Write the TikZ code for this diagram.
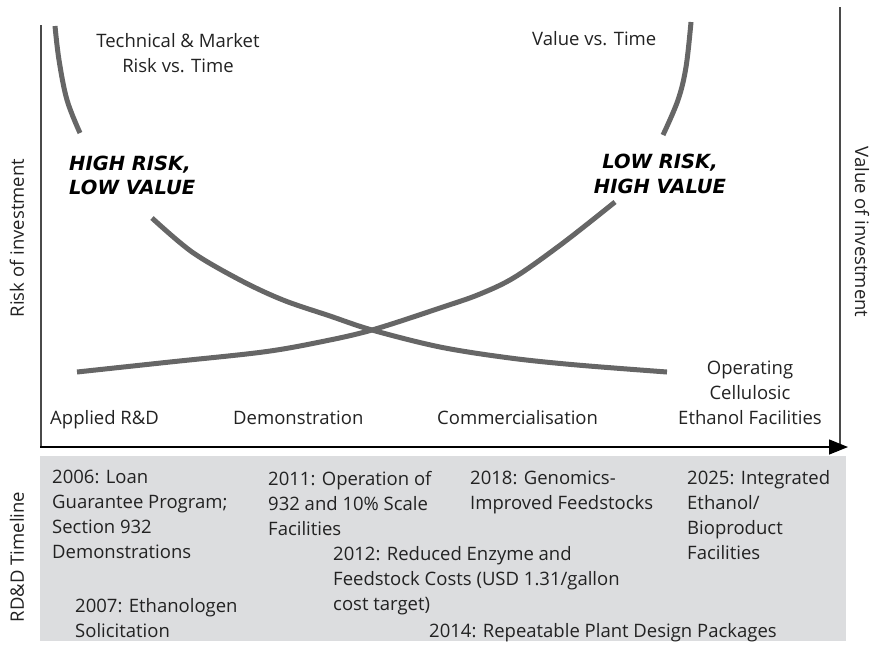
\documentclass[tikz,border=0pt]{standalone}
\usepackage{fontspec}
\setmainfont{Open Sans}
\newfontfamily\heavyfont{DejaVu Sans}
\usetikzlibrary{arrows.meta}
\definecolor{curvegrey}{HTML}{666666}
\definecolor{boxgrey}{HTML}{DCDDDF}
\definecolor{axisgrey}{HTML}{4A4A4A}
\definecolor{textgrey}{HTML}{222222}
\tikzset{
  txt/.style={font=\fontsize{18.5}{25}\selectfont, text=textgrey, inner sep=0pt, anchor=base west, align=left},
  ctxt/.style={txt, anchor=base, align=center},
  big/.style={font=\heavyfont\fontsize{19.5}{24.5}\selectfont\bfseries\itshape, text=black, inner sep=0pt},
  curve/.style={draw=curvegrey, line width=5pt},
  axis/.style={draw=axisgrey, line width=1.4pt},
}
\begin{document}
\begin{tikzpicture}[x=1pt,y=-1pt]
\useasboundingbox (0,0) rectangle (877,654);
% timeline box
\fill[boxgrey] (40,456) rectangle (846,641);
% axes
\coordinate (o) at (41,447);
\coordinate (ytop) at (41,25);
\coordinate (xend) at (848,447);
\coordinate (rtop) at (840,7);
\coordinate (rbot) at (840,448);
\draw[axis] (ytop) -- (41,448);
\draw[axis] (rtop) -- (rbot);
\draw[draw=black, line width=1.4pt, -{Triangle[length=19pt,width=15pt]}] (40.3,447) -- (xend);
% curves
\draw[curve] plot[smooth, tension=0.6] coordinates {(55,26) (59,60) (67,100) (80,133)};
\draw[curve] plot[smooth, tension=0.55] coordinates {(152,218) (192,252) (240,280) (283,300) (330,316) (372,330) (440,347) (510,358) (577,365) (667,372)};
\draw[curve] plot[smooth, tension=0.55] coordinates {(77,372) (170,362) (263,352) (320,342) (372,330) (443,307) (480,294) (515,277) (563,243) (615,202)};
\draw[curve] plot[smooth, tension=0.6] coordinates {(663,135) (678,100) (686,67) (691,22)};
% curve labels
\node[ctxt] (tm) at (178,72) {Technical \& Market\\Risk vs. Time};
\node[txt] (vt) at (532,45) {Value vs. Time};
\node[big, anchor=base west, align=left] (hr) at (69,194.5) {HIGH RISK,\\LOW VALUE};
\node[big, anchor=base, align=center] (lr) at (660,193) {LOW RISK,\\HIGH VALUE};
% stage labels
\node[txt] (ard) at (50,424) {Applied R\&D};
\node[txt] (dem) at (233,424) {Demonstration};
\node[txt] (com) at (437,424) {Commercialisation};
\node[ctxt] (ocef) at (750,424) {Operating\\Cellulosic\\Ethanol Facilities};
% axis labels
\node[ctxt, anchor=center, rotate=90] (rinv) at (17,238) {Risk of investment};
\node[ctxt, anchor=center, rotate=-90] (vinv) at (862,232) {Value of investment};
\node[ctxt, anchor=center, rotate=90] (tl) at (17,557) {RD\&D Timeline};
% timeline entries
\node[txt] (y2006) at (52,558) {2006: Loan\\Guarantee Program;\\Section 932\\Demonstrations};
\node[txt] (y2007) at (75,637) {2007: Ethanologen\\Solicitation};
\node[txt] (y2011) at (268,535) {2011: Operation of\\932 and 10\% Scale\\Facilities};
\node[txt] (y2012) at (333,610) {2012: Reduced Enzyme and\\Feedstock Costs (USD 1.31/gallon\\cost target)};
\node[txt] (y2018) at (470,509) {2018: Genomics-\\Improved Feedstocks};
\node[txt] (y2025) at (687,559) {2025: Integrated\\Ethanol/\\Bioproduct\\Facilities};
\node[txt] (y2014) at (429,637) {2014: Repeatable Plant Design Packages};
\end{tikzpicture}
\end{document}
